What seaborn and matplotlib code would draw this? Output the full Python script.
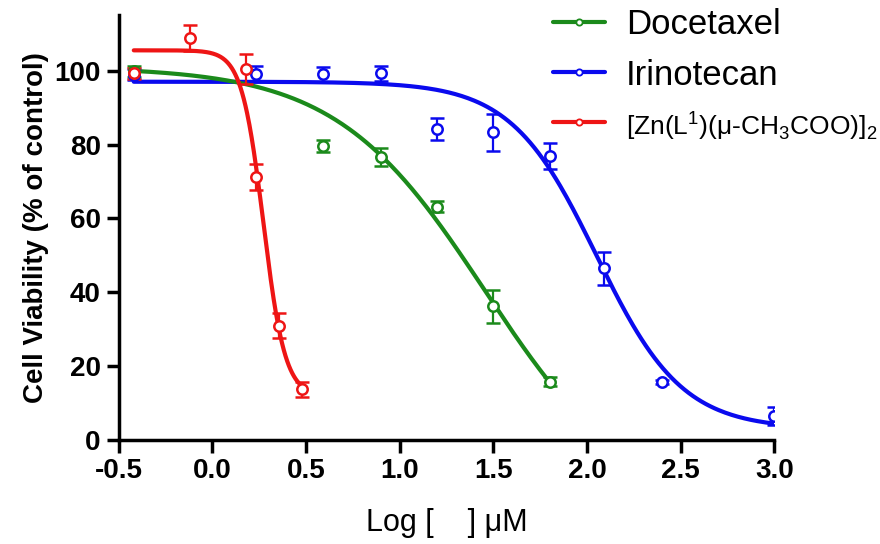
import numpy as np
import pandas as pd
import matplotlib
matplotlib.use('Agg')
import matplotlib.pyplot as plt
import seaborn as sns
from matplotlib.lines import Line2D

labels = ['Docetaxel', 'Irinotecan', '[Zn(L$^1$)(μ-CH$_3$COO)]$_2$']
colors = ['#1b8a1b', '#0a0aee', '#ee1515']

# measured points (log concentration, % viability, error)
doc_x = [-0.42, 0.59, 0.90, 1.20, 1.50, 1.80]
doc_y = [99.8, 79.6, 76.6, 63.2, 36.2, 15.8]
doc_err = [1.5, 1.5, 2.5, 1.5, 4.5, 1.2]

iri_x = [-0.42, 0.23, 0.59, 0.90, 1.20, 1.50, 1.80, 2.09, 2.40, 3.00]
iri_y = [98.9, 99.2, 99.0, 99.3, 84.2, 83.3, 76.8, 46.5, 15.8, 6.5]
iri_err = [1.5, 2.0, 2.0, 2.0, 3.0, 5.0, 3.5, 4.5, 0.5, 2.5]

zn_x = [-0.42, -0.12, 0.18, 0.23, 0.355, 0.48]
zn_y = [99.3, 108.8, 100.5, 71.3, 31.0, 13.8]
zn_err = [1.5, 3.5, 4.0, 3.5, 3.5, 2.0]

# 4PL fit parameters: top, bottom, logIC50, hill
doc_fit = [101, -20, 1.454, 1.095]
iri_fit = [97, 3, 2.05, 1.9]
zn_fit = [105.5, 12, 0.272, 7.5]

x_ticks = [-0.5, 0.0, 0.5, 1.0, 1.5, 2.0, 2.5, 3.0]
y_ticks = [0, 20, 40, 60, 80, 100]


def fourpl(x, p):
    top, bottom, c, h = p
    return bottom + (top - bottom) / (1 + 10 ** ((x - c) * h))


sns.set_style('ticks')
plt.rcParams['font.family'] = ['Liberation Sans', 'DejaVu Sans']
plt.rcParams['mathtext.fontset'] = 'custom'
plt.rcParams['mathtext.rm'] = 'Liberation Sans'
plt.rcParams['text.color'] = 'black'
plt.rcParams['axes.labelcolor'] = 'black'

fig = plt.figure(figsize=(8.8, 5.44), dpi=100)
ax = fig.add_axes([0.135, 0.191, 0.745, 0.781])

sets = [
    (doc_x, doc_y, doc_err, doc_fit),
    (iri_x, iri_y, iri_err, iri_fit),
    (zn_x, zn_y, zn_err, zn_fit),
]
# draw blue first, then green, then red on top
for i in [1, 0, 2]:
    xs, ys, es, fit = sets[i]
    xc = np.linspace(min(xs), max(xs), 300)
    curve = pd.DataFrame({'x': xc, 'y': fourpl(xc, fit)})
    sns.lineplot(data=curve, x='x', y='y', color=colors[i], lw=3, ax=ax, zorder=2)
    ax.errorbar(xs, ys, yerr=es, fmt='o', color=colors[i], mfc='white', mec=colors[i],
                ms=7.5, mew=1.8, elinewidth=1.6, capsize=5, capthick=1.6, zorder=3)

ax.set_xlim(-0.5, 3.0)
ax.set_ylim(0, 115)
ax.set_xticks(x_ticks)
ax.set_xticklabels(['%.1f' % t for t in x_ticks])
ax.set_yticks(y_ticks)
for lab in ax.get_xticklabels() + ax.get_yticklabels():
    lab.set_fontweight('bold')
ax.tick_params(direction='out', length=9, width=2.5, labelsize=20, colors='black', pad=4)
sns.despine(ax=ax)
for s in ['left', 'bottom']:
    ax.spines[s].set_linewidth(2.5)
    ax.spines[s].set_color('black')

ax.set_xlabel('Log [    ] μM', fontsize=22, labelpad=17)
ax.set_ylabel('Cell Viability (% of control)', fontsize=20, fontweight='bold', labelpad=4)

handles = [Line2D([], [], color=c, lw=3, marker='o', ms=4.5, mfc='white', mew=1.3) for c in colors]
leg = ax.legend(handles, labels, loc='upper left', bbox_to_anchor=(553 / 880, 0.985),
                bbox_transform=fig.transFigure, frameon=False, fontsize=25,
                borderpad=0, borderaxespad=0,
                handlelength=1.5, handletextpad=0.6, labelspacing=0.5)
leg.get_texts()[2].set_fontsize(19)

fig.savefig('out.png', dpi=100)
